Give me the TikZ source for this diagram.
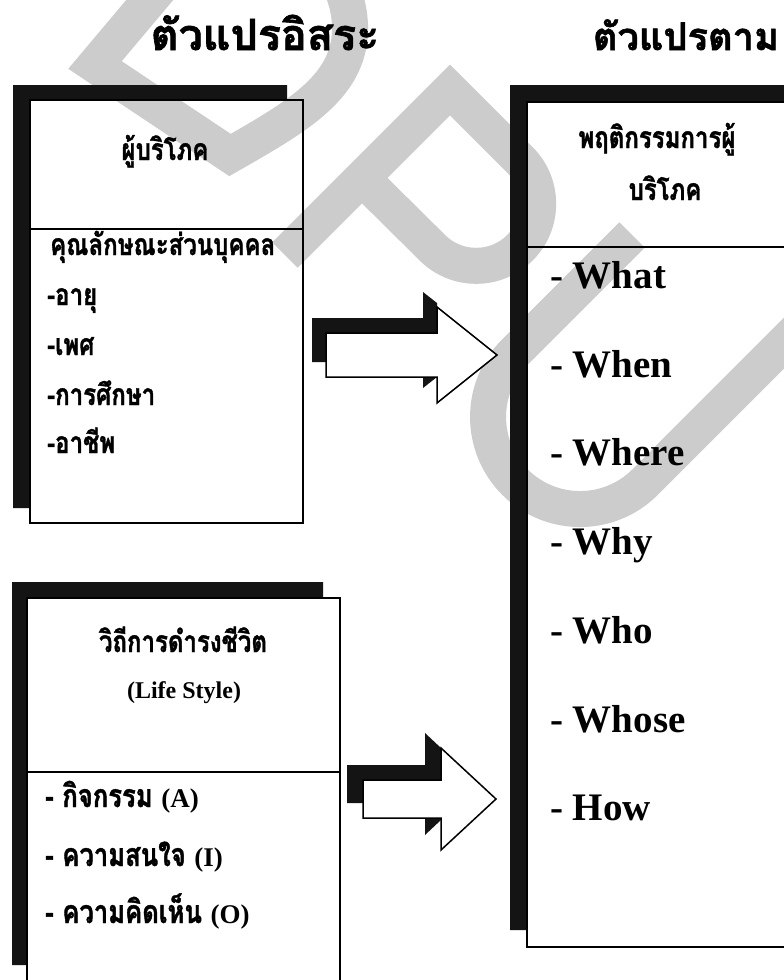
\documentclass[tikz,border=0pt]{standalone}
\usepackage{fontspec}
\setmainfont{Liberation Serif}
\newfontfamily\thai[Script=Thai, FakeStretch=0.8, FakeBold=1.2]{Loma}
\newfontfamily\thaiwide[Script=Thai, FakeBold=1.5]{Loma}
\begin{document}
\begin{tikzpicture}[x={(1pt,0pt)}, y={(0pt,-1pt)}]
\tikzset{
  wm/.style={draw=black!20, line width=36pt, line cap=butt, line join=miter},
  shadowfill/.style={fill=black!92, draw=none},
  boxframe/.style={draw=black, line width=1.6pt, inner sep=0pt, outer sep=0pt},
  divline/.style={draw=black, line width=1.6pt},
  thtitle/.style={font=\thaiwide\bfseries\fontsize{43}{48}\selectfont, inner sep=0pt},
  thtitleb/.style={font=\thaiwide\bfseries\fontsize{38}{44}\selectfont, inner sep=0pt},
  thtext/.style={font=\thai\bfseries\fontsize{30}{34}\selectfont, inner sep=0pt},
  thtextb/.style={font=\thai\bfseries\fontsize{32}{36}\selectfont, inner sep=0pt},
  entext/.style={font=\rmfamily\bfseries\fontsize{39}{44}\selectfont, inner sep=0pt, anchor=base west},
  ensmall/.style={font=\rmfamily\bfseries\fontsize{24}{28}\selectfont, inner sep=0pt},
  blockarrow/.style={fill=white, draw=black, line width=1.5pt, line join=miter},
}
\newcommand{\enpart}[1]{{\rmfamily\bfseries\fontsize{27}{30}\selectfont #1}}
\useasboundingbox (0,0) rectangle (784,980);
\clip (0,0) rectangle (784,980);
\fill[white] (0,0) rectangle (784,980);

% watermark
\draw[wm] (175,-30) -- (95,65) -- (230,155) .. controls (300,115) and (352,85) .. (350,25) .. controls (349,0) and (340,-15) .. (330,-40);
\draw[wm] (285,255) -- (450,90) -- (520,160) arc[start angle=-45, end angle=135, radius=62] -- (362,178);
\draw[wm] (632,235) -- (515,352) arc[start angle=225, end angle=45, radius=92] -- (820,307);

% shadows
\fill[shadowfill] (13,85) -- (287,85) -- (287,100) -- (30,100) -- (30,508) -- (13,508) -- cycle;
\fill[shadowfill] (510,85) -- (790,85) -- (790,102) -- (527,102) -- (527,930) -- (510,930) -- cycle;
\fill[shadowfill] (12,582) -- (323,582) -- (323,598) -- (27,598) -- (27,965) -- (12,965) -- cycle;

% boxes
\node[boxframe, minimum width=273pt, minimum height=423pt] (box1) at (166.5,311.5) {};
\node[boxframe, minimum width=273pt, minimum height=845pt] (box3) at (663.5,524.5) {};
\node[boxframe, minimum width=313pt, minimum height=402pt] (box2) at (183.5,799) {};
\draw[divline] (box1.west |- 0,229) -- (box1.east |- 0,229);
\draw[divline] (box3.west |- 0,247) -- (box3.east |- 0,247);
\draw[divline] (box2.west |- 0,772) -- (box2.east |- 0,772);

% arrows
\fill[shadowfill] (312,318) -- (423,318) -- (423,292) -- (437,303) -- (437,377) -- (423,388) -- (423,362) -- (312,362) -- cycle;
\draw[blockarrow] (326,333) -- (437,333) -- (437,307) -- (497,355) -- (437,403) -- (437,377) -- (326,377) -- cycle;
\fill[shadowfill] (347,765) -- (425,765) -- (425,733) -- (441,748) -- (441,820) -- (425,835) -- (425,803) -- (347,803) -- cycle;
\draw[blockarrow] (363,780) -- (441,780) -- (441,748) -- (496,799) -- (441,850) -- (441,818) -- (363,818) -- cycle;

% titles
\node[thtitle, anchor=base] (tL) at (265,50) {ตัวแปรอิสระ};
\node[thtitleb, anchor=base] (tR) at (686,50) {ตัวแปรตาม};

% box 1 text
\node[thtext, anchor=base] (c1) at (165,160) {ผู้บริโภค};
\node[thtext, anchor=base west] (c2) at (50,255) {คุณลักษณะส่วนบุคคล};
\node[thtext, anchor=base west] (c3) at (47,305) {-อายุ};
\node[thtext, anchor=base west] (c4) at (47,355) {-เพศ};
\node[thtext, anchor=base west] (c5) at (47,405) {-การศึกษา};
\node[thtext, anchor=base west] (c6) at (47,453) {-อาชีพ};

% right box text
\node[thtext, anchor=base] (r1) at (657,148) {พฤติกรรมการผู้};
\node[thtext, anchor=base] (r2) at (665,200) {บริโภค};
\node[entext] (w1) at (550,288) {- What};
\node[entext] (w2) at (550,377) {- When};
\node[entext] (w3) at (550,465) {- Where};
\node[entext] (w4) at (550,554) {- Why};
\node[entext] (w5) at (550,643) {- Who};
\node[entext] (w6) at (550,732) {- Whose};
\node[entext] (w7) at (550,820) {- How};

% box 2 text
\node[thtext, anchor=base] (l1) at (183,652) {วิถีการดำรงชีวิต};
\node[ensmall, anchor=base] (l2) at (184,698) {(Life Style)};
\node[thtextb, anchor=base west] (l3) at (45,807) {- กิจกรรม \enpart{(A)}};
\node[thtextb, anchor=base west] (l4) at (45,866) {- ความสนใจ \enpart{(I)}};
\node[thtextb, anchor=base west] (l5) at (45,923) {- ความคิดเห็น \enpart{(O)}};
\end{tikzpicture}
\end{document}
